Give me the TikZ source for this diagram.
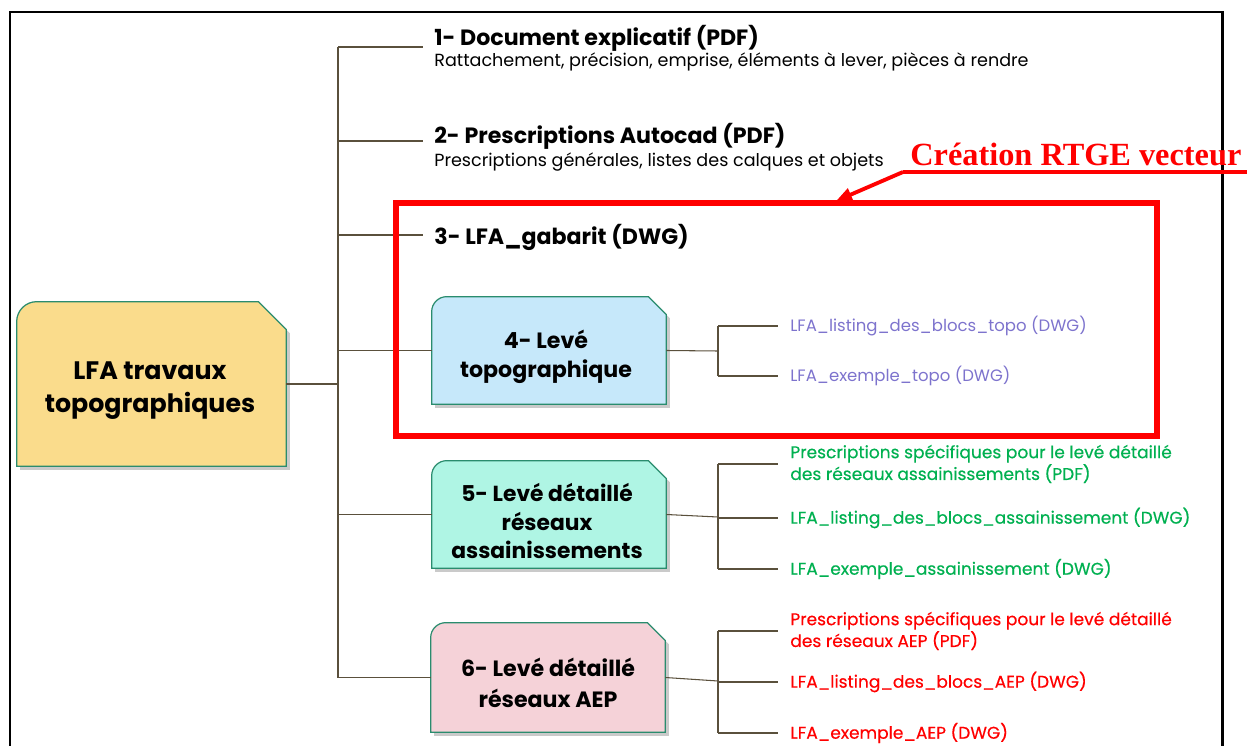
\documentclass[tikz,border=0pt]{standalone}
\usepackage{fontspec}
\setmainfont{Poppins}
\newfontfamily\serifbf{Liberation Serif}
\usetikzlibrary{backgrounds,shadows,arrows.meta}
\definecolor{connc}{HTML}{5A503C}
\definecolor{boxborder}{HTML}{2A8C6E}
\definecolor{fmain}{HTML}{FADC8C}
\definecolor{ftopo}{HTML}{C6E8FA}
\definecolor{fassai}{HTML}{AFF5E4}
\definecolor{faep}{HTML}{F5D2D8}
\definecolor{cpurple}{HTML}{7D73CD}
\definecolor{cgreen}{HTML}{00B050}
\definecolor{cred}{HTML}{FF0000}
\newcommand\lfashape[4]{%
  \path[fill=#4, draw=boxborder, line width=0.7pt,
        drop shadow={shadow xshift=0.07cm, shadow yshift=-0.07cm, fill=black!35, opacity=0.6}]
   ([yshift=-#3]#1.north west) arc[start angle=180,end angle=90,radius=#3]
   -- ([xshift=-#2]#1.north east) -- ([yshift=-#2]#1.north east)
   -- (#1.south east) -- (#1.south west) -- cycle;}
\begin{document}
\begin{tikzpicture}[x=0.02cm,y=-0.02cm,
  conn/.style={draw=connc, line width=0.6pt},
  boxshape/.style={inner sep=0},
  boxtext/.style={inner sep=0, align=center, text=black},
  ttl/.style={anchor=west, inner sep=0, font=\bfseries\fontsize{12.6}{15}\selectfont},
  sub/.style={anchor=west, inner sep=0, font=\fontsize{10}{12}\selectfont},
  leaf/.style={anchor=west, inner sep=0, align=left, font=\fontsize{9.4}{12.4}\selectfont},
  leafb/.style={leaf, font=\addfontfeature{FakeBold=0.4}\fontsize{9.7}{12.4}\selectfont}]
\useasboundingbox (0,0) rectangle (1247,746);
% frame
\draw[line width=1.7pt] (10,760) -- (10,12) -- (1222,12) -- (1222,760);

% boxes
\node[boxshape, minimum width=5.38cm, minimum height=3.28cm] (main) at (151.5,384) {};
\node[boxshape, minimum width=4.68cm, minimum height=2.14cm] (n4) at (549,350.5) {};
\node[boxshape, minimum width=4.68cm, minimum height=2.14cm] (n5) at (549,514.5) {};
\node[boxshape, minimum width=4.68cm, minimum height=2.18cm] (n6) at (548,677.5) {};
\begin{scope}[on background layer]
  \lfashape{main}{0.56cm}{0.4cm}{fmain}
  \lfashape{n4}{0.36cm}{0.3cm}{ftopo}
  \lfashape{n5}{0.36cm}{0.3cm}{fassai}
  \lfashape{n6}{0.36cm}{0.3cm}{faep}
\end{scope}
\node[boxtext, font=\bfseries\fontsize{14.4}{18.7}\selectfont] (mainT) at (150,391) {LFA travaux\\topographiques};
\node[boxtext, font=\bfseries\fontsize{12.6}{16.4}\selectfont] (n4T) at (546,357) {4- Levé\\topographique};
\node[boxtext, font=\bfseries\fontsize{12.4}{16.4}\selectfont] (n5T) at (547,521) {5- Levé détaillé\\réseaux\\assainissements};
\node[boxtext, font=\bfseries\fontsize{12.6}{17.8}\selectfont] (n6T) at (548,683) {6- Levé détaillé\\réseaux AEP};

% titles 1-3
\node[ttl] (t1) at (434,38) {1- Document explicatif (PDF)};
\node[sub] (s1) at (434,62) {Rattachement, précision, emprise, éléments à lever, pièces à rendre};
\node[ttl] (t2) at (434,136) {2- Prescriptions Autocad (PDF)};
\node[sub] (s2) at (434,162) {Prescriptions générales, listes des calques et objets};
\node[ttl] (t3) at (434,237) {3- LFA\_gabarit (DWG)};
\coordinate (b1) at (423,47);
\coordinate (b2) at (423,141);
\coordinate (b3) at (423,235);
\coordinate (tt) at (338,47);

% trunk and branches
\draw[conn] (main.east) -- (main.east -| tt);
\draw[conn] (tt) -- (n6.west -| tt) -- (n6.west);
\draw[conn] (tt) -- (b1);
\draw[conn] (b2 -| tt) -- (b2);
\draw[conn] (b3 -| tt) -- (b3);
\draw[conn] (n4.west -| tt) -- (n4.west);
\draw[conn] (n5.west -| tt) -- (n5.west);

% leaves topo
\node[leaf, text=cpurple] (l41) at (790,326) {LFA\_listing\_des\_blocs\_topo (DWG)};
\node[leaf, text=cpurple] (l42) at (790,376) {LFA\_exemple\_topo (DWG)};
\coordinate (k4) at (718,351);
\draw[conn] (n4.east) -- (k4);
\draw[conn] (l41.west -| k4) -- (l42.west -| k4);
\draw[conn] (l41.west -| k4) -- ([xshift=-0.24cm]l41.west);
\draw[conn] (l42.west -| k4) -- ([xshift=-0.24cm]l42.west);

% leaves assainissement
\node[leafb, text=cgreen] (l51) at (790,464) {Prescriptions spécifiques pour le levé détaillé\\des réseaux assainissements (PDF)};
\node[leafb, text=cgreen] (l52) at (790,518) {LFA\_listing\_des\_blocs\_assainissement (DWG)};
\node[leafb, text=cgreen] (l53) at (790,569) {LFA\_exemple\_assainissement (DWG)};
\coordinate (k5) at (718,517);
\draw[conn] (n5.east) -- (k5);
\draw[conn] (l51.west -| k5) -- (l53.west -| k5);
\draw[conn] (l51.west -| k5) -- ([xshift=-0.24cm]l51.west);
\draw[conn] (l52.west -| k5) -- ([xshift=-0.24cm]l52.west);
\draw[conn] (l53.west -| k5) -- ([xshift=-0.24cm]l53.west);

% leaves AEP
\node[leafb, text=cred] (l61) at (790,631) {Prescriptions spécifiques pour le levé détaillé\\des réseaux AEP (PDF)};
\node[leafb, text=cred] (l62) at (790,682) {LFA\_listing\_des\_blocs\_AEP (DWG)};
\node[leafb, text=cred] (l63) at (790,733) {LFA\_exemple\_AEP (DWG)};
\coordinate (k6) at (718,681);
\draw[conn] (n6.east) -- (k6);
\draw[conn] (l61.west -| k6) -- (l63.west -| k6);
\draw[conn] (l61.west -| k6) -- ([xshift=-0.24cm]l61.west);
\draw[conn] (l62.west -| k6) -- ([xshift=-0.24cm]l62.west);
\draw[conn] (l63.west -| k6) -- ([xshift=-0.24cm]l63.west);

% red highlight
\node[draw=cred, line width=3.4pt, minimum width=15.22cm, minimum height=4.66cm, inner sep=0] (rbox) at (776.5,319.5) {};
\node[anchor=base west, inner sep=0, text=cred, font=\serifbf\bfseries\fontsize{18.4}{20}\selectfont] (rt) at (910,166) {Création RTGE vecteur};
\coordinate (ul) at (903,172);
\coordinate (tip) at (836,201);
\draw[cred, line width=2.2pt] (ul) -- (1247,172);
\draw[cred, line width=2.2pt, -{Triangle[length=0.32cm,width=0.26cm]}] (ul) -- (tip);
\end{tikzpicture}
\end{document}
